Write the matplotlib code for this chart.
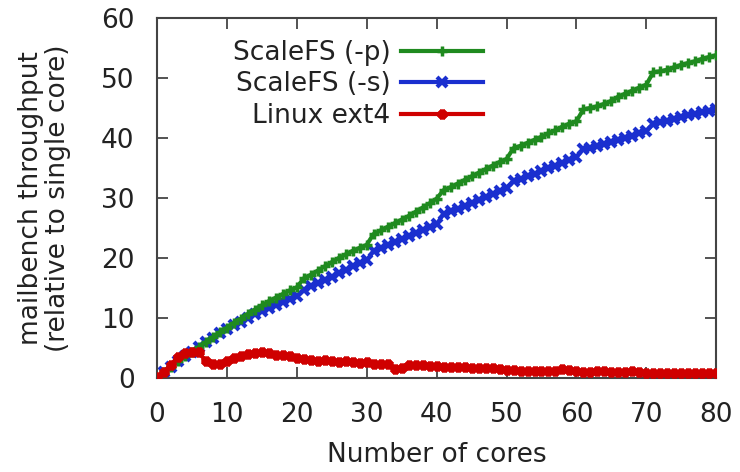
import matplotlib
matplotlib.use('Agg')
import matplotlib.pyplot as plt
import numpy as np

# cores 0..80, throughput relative to single core
cores = np.arange(0, 81)

scalefs_p = [0.0, 1.0, 1.9, 2.8, 3.6, 4.4, 5.2, 6.0, 6.8, 7.6, 8.4,
             9.2, 9.9, 10.7, 11.4, 12.1, 12.8, 13.4, 14.0, 14.6, 15.1,
             16.6, 17.2, 17.9, 18.6, 19.3, 20.0, 20.6, 21.2, 21.7, 22.2,
             24.0, 24.6, 25.2, 25.8, 26.4, 27.0, 27.7, 28.4, 29.1, 29.9,
             31.3, 31.8, 32.4, 33.0, 33.6, 34.2, 34.8, 35.4, 36.0, 36.5,
             38.3, 38.7, 39.2, 39.7, 40.2, 40.8, 41.3, 41.9, 42.4, 42.8,
             44.8, 45.0, 45.3, 45.7, 46.2, 46.9, 47.4, 47.9, 48.4, 48.9,
             51.0, 51.1, 51.4, 51.8, 52.2, 52.5, 52.8, 53.2, 53.5, 53.8]

scalefs_s = [0.0, 1.0, 1.9, 2.8, 3.6, 4.4, 5.2, 6.0, 6.7, 7.5, 8.2,
             8.8, 9.4, 10.0, 10.6, 11.2, 11.7, 12.2, 12.7, 13.2, 13.6,
             14.7, 15.3, 15.8, 16.4, 16.9, 17.5, 18.0, 18.6, 19.1, 19.6,
             21.2, 21.6, 22.1, 22.6, 23.1, 23.6, 24.1, 24.6, 25.1, 25.6,
             27.4, 27.8, 28.2, 28.7, 29.2, 29.7, 30.2, 30.7, 31.2, 31.7,
             32.9, 33.2, 33.6, 34.0, 34.5, 35.0, 35.4, 35.9, 36.3, 36.8,
             38.2, 38.4, 38.7, 39.0, 39.3, 39.7, 40.0, 40.4, 40.8, 41.1,
             42.4, 42.6, 42.9, 43.2, 43.5, 43.8, 44.0, 44.3, 44.5, 44.8]

linux_ext4 = [0.2, 1.0, 2.2, 3.5, 4.2, 4.4, 4.3, 2.8, 2.3, 2.4, 2.8,
              3.3, 3.7, 4.0, 4.2, 4.4, 4.2, 3.9, 3.8, 3.6, 3.3,
              3.1, 3.0, 2.9, 3.0, 2.8, 2.7, 2.8, 2.6, 2.5, 2.6,
              2.4, 2.4, 2.3, 1.5, 1.7, 2.1, 2.2, 2.1, 2.0, 2.0,
              1.9, 1.9, 1.8, 1.8, 1.7, 1.6, 1.6, 1.7, 1.5, 1.3,
              1.3, 1.2, 1.2, 1.2, 1.1, 1.2, 1.2, 1.5, 1.3, 1.2,
              1.0, 1.0, 1.1, 1.1, 1.0, 1.0, 1.0, 1.1, 1.0, 0.9,
              0.9, 0.9, 0.9, 0.9, 0.8, 0.9, 0.9, 0.9, 0.8, 0.9]

xticks = [0, 10, 20, 30, 40, 50, 60, 70, 80]
yticks = [0, 10, 20, 30, 40, 50, 60]

green = '#1f8a1f'
blue = '#1a2fcf'
red = '#cf0000'
txt = '#222222'

fig = plt.figure(figsize=(7.4, 4.72), dpi=100)
ax = fig.add_axes([0.212, 0.199, 0.756, 0.763])

ax.plot(cores, scalefs_p, color=green, lw=3, marker='+', ms=7, mew=2.5,
        label='ScaleFS (-p)', zorder=3)
ax.plot(cores, scalefs_s, color=blue, lw=3, marker='x', ms=7, mew=3,
        label='ScaleFS (-s)', zorder=2)
ax.plot(cores, linux_ext4, color=red, lw=3, marker=(8, 2, 0), ms=7, mew=3,
        label='Linux ext4', zorder=4)

ax.set_xlim(0, 80)
ax.set_ylim(0, 60)
ax.set_xticks(xticks)
ax.set_yticks(yticks)
ax.tick_params(direction='in', length=8, width=1.3, colors='#444444',
               top=True, right=True, labelsize=19, labelcolor=txt)
ax.tick_params(axis='x', pad=17)
ax.tick_params(axis='y', pad=16)
for s in ax.spines.values():
    s.set_color('#444444')
    s.set_linewidth(1.5)

ax.set_xlabel('Number of cores', fontsize=19, color=txt, labelpad=10)
ax.set_ylabel('mailbench throughput\n(relative to single core)', fontsize=19,
              color=txt, labelpad=22, linespacing=1.05)

leg = ax.legend(loc='upper right', bbox_to_anchor=(496 / 740, 1 - 27 / 472),
                bbox_transform=fig.transFigure, markerfirst=False,
                frameon=False, fontsize=19, handlelength=3.1,
                labelspacing=0.2, handletextpad=0.4, borderpad=0,
                labelcolor=txt)

plt.savefig('out.png', dpi=100)
